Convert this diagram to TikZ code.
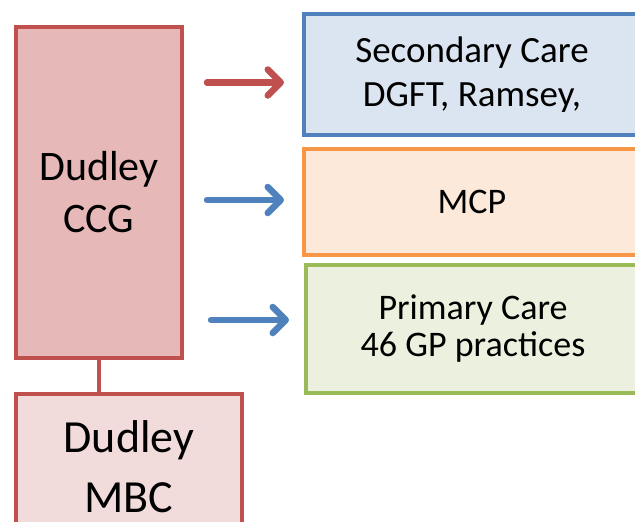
\documentclass[tikz,border=0pt]{standalone}
\usepackage{fontspec}
\setmainfont{Carlito}
\usepackage{tikz}
\usetikzlibrary{arrows.meta}

\definecolor{ccgred}{HTML}{C0504D}
\definecolor{ccgfill}{HTML}{E6B9B8}
\definecolor{mbcfill}{HTML}{F2DCDB}
\definecolor{secblue}{HTML}{4F81BD}
\definecolor{secfill}{HTML}{DBE5F1}
\definecolor{mcporange}{HTML}{F79646}
\definecolor{mcpfill}{HTML}{FDE9D9}
\definecolor{primgreen}{HTML}{9BBB59}
\definecolor{primfill}{HTML}{EBF1DE}

\begin{document}
\begin{tikzpicture}[x=1pt, y=-1pt,
    >={Straight Barb[length=13pt, width=26pt, round]},
    box/.style={draw, line width=4pt, align=center, inner sep=0pt},
    flow/.style={->, line width=6.5pt, line cap=round, shorten <=23pt, shorten >=18pt}]
            \clip (0, 0) rectangle (635, 522);
            \node[box, draw=ccgred, fill=ccgfill, minimum width=166pt, minimum height=331pt,
                font=\fontsize{42}{52}\selectfont] (ccg) at (99, 192.5) {Dudley\\CCG};
            \node[box, draw=ccgred, fill=mbcfill, minimum width=226pt, minimum height=146pt,
                font=\fontsize{46}{60}\selectfont] (mbc) at (129, 467) {Dudley\\MBC};
            \node[box, draw=secblue, fill=secfill, minimum width=336pt, minimum height=121pt,
                font=\fontsize{37}{44}\selectfont] (sec) at (472, 74.5) {Secondary Care\\DGFT, Ramsey,};
            \node[box, draw=mcporange, fill=mcpfill, minimum width=336pt, minimum height=106pt,
                font=\fontsize{36}{44}\selectfont] (mcp) at (472, 202) {MCP};
            \node[box, draw=primgreen, fill=primfill, minimum width=334pt, minimum height=128pt,
                font=\fontsize{36}{37}\selectfont] (prim) at (473, 329) {Primary Care\\46 GP practices};
            % links
            \draw[ccgred, line width=4pt] (ccg.south) -- (ccg.south |- mbc.north);
            \draw[flow, ccgred]  ([yshift=-8pt]sec.west -| ccg.east) -- ([yshift=-8pt]sec.west);
            \draw[flow, secblue] ([yshift=2pt]mcp.west -| ccg.east) -- ([yshift=2pt]mcp.west);
            \draw[flow, secblue, shorten <=27pt, shorten >=15pt] ([yshift=9pt]prim.west -| ccg.east) -- ([yshift=9pt]prim.west);
        \end{tikzpicture}
\end{document}
